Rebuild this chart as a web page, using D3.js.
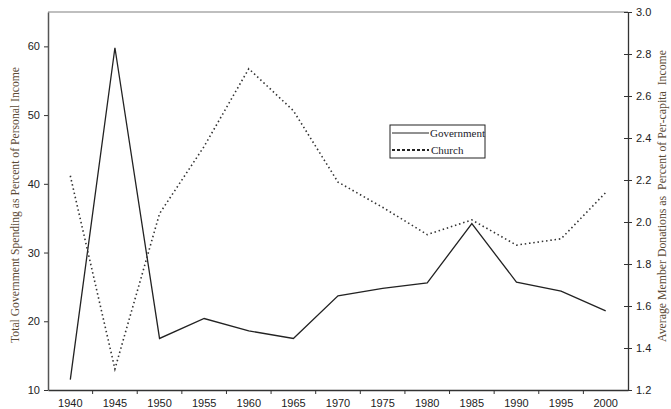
<!DOCTYPE html>
<html>
<head>
<meta charset="utf-8">
<script src="https://cdn.jsdelivr.net/npm/d3@7"></script>
<style>
  body { margin: 0; background: #fff; }
  svg { display: block; }
</style>
</head>
<body>
<svg id="chart"></svg>
<script>
const years = [1940, 1945, 1950, 1955, 1960, 1965, 1970, 1975, 1980, 1985, 1990, 1995, 2000];
const government = [11.5, 59.8, 17.5, 20.4, 18.6, 17.5, 23.7, 24.8, 25.6, 34.2, 25.7, 24.4, 21.5];
const church = [2.22, 1.30, 2.04, 2.36, 2.73, 2.53, 2.19, 2.07, 1.94, 2.01, 1.89, 1.92, 2.14];
const leftTicks = [10, 20, 30, 40, 50, 60];
const rightTicks = [1.2, 1.4, 1.6, 1.8, 2.0, 2.2, 2.4, 2.6, 2.8, 3.0];

const width = 671;
const height = 409;
const plot = { left: 48, right: 628, top: 12, bottom: 390 };

const labelFont = "'Liberation Sans', Arial, sans-serif";
const titleFont = "'Liberation Serif', 'Times New Roman', serif";
const titleColor = "#5c4a36";

const svg = d3.select("#chart").attr("width", width).attr("height", height);

const x = d3.scaleBand().domain(years).range([plot.left, plot.right]);
const yLeft = d3.scaleLinear().domain([10, 65]).range([plot.bottom, plot.top]);
const yRight = d3.scaleLinear().domain([1.2, 3.0]).range([plot.bottom, plot.top]);

// top border
svg.append("line")
    .attr("x1", plot.left).attr("x2", plot.right)
    .attr("y1", plot.top).attr("y2", plot.top)
    .attr("stroke", "#aaa").attr("stroke-width", 1.5);

// x axis: labels centred in bands, ticks on band edges
const xAxis = svg.append("g")
    .attr("transform", `translate(0,${plot.bottom})`)
    .call(d3.axisBottom(x).tickSize(0).tickPadding(9));
xAxis.select(".domain").attr("stroke", "#333").attr("stroke-width", 1.3);
xAxis.selectAll("text").attr("font-family", labelFont).attr("font-size", 11).attr("fill", "#222");
xAxis.selectAll("line.edge")
    .data(years.slice(1))
    .join("line")
    .attr("class", "edge")
    .attr("x1", (d) => x(d)).attr("x2", (d) => x(d))
    .attr("y1", 0).attr("y2", 4)
    .attr("stroke", "#333");

// left axis
const leftAxis = svg.append("g")
    .attr("transform", `translate(${plot.left},0)`)
    .call(d3.axisLeft(yLeft).tickValues(leftTicks).tickSizeInner(4).tickSizeOuter(0).tickPadding(4));
leftAxis.select(".domain").attr("stroke", "#555").attr("stroke-width", 1.5);
leftAxis.selectAll("line").attr("stroke", "#333");
leftAxis.selectAll("text").attr("font-family", labelFont).attr("font-size", 11).attr("fill", "#222");

// right axis, ticks cross the line
const rightAxis = svg.append("g")
    .attr("transform", `translate(${plot.right},0)`)
    .call(d3.axisRight(yRight).tickValues(rightTicks).tickFormat(d3.format(".1f"))
        .tickSizeInner(4).tickSizeOuter(0).tickPadding(4));
rightAxis.select(".domain").attr("stroke", "#333").attr("stroke-width", 1.3);
rightAxis.selectAll(".tick line").attr("x1", -4).attr("stroke", "#333");
rightAxis.selectAll("text").attr("font-family", labelFont).attr("font-size", 11).attr("fill", "#222");

// axis titles
svg.append("text")
    .attr("transform", "translate(19,205) rotate(-90)")
    .attr("text-anchor", "middle")
    .attr("font-family", titleFont).attr("font-size", 11.5).attr("fill", titleColor)
    .attr("textLength", 276).attr("lengthAdjust", "spacingAndGlyphs")
    .text("Total Government Spending as Percent of Personal Income");

svg.append("text")
    .attr("transform", "translate(666,196) rotate(-90)")
    .attr("text-anchor", "middle")
    .attr("font-family", titleFont).attr("font-size", 11.5).attr("fill", titleColor)
    .attr("xml:space", "preserve")
    .attr("textLength", 292).attr("lengthAdjust", "spacingAndGlyphs")
    .text("Average Member Donations as  Percent of Per-capita  Income");

// series
const cx = (i) => x(years[i]) + x.bandwidth() / 2;

const govLine = d3.line().x((d, i) => cx(i)).y((d) => yLeft(d));
svg.append("path")
    .datum(government)
    .attr("fill", "none")
    .attr("stroke", "#222")
    .attr("stroke-width", 1.3)
    .attr("d", govLine);

const churchLine = d3.line().x((d, i) => cx(i)).y((d) => yRight(d));
svg.append("path")
    .datum(church)
    .attr("fill", "none")
    .attr("stroke", "#333")
    .attr("stroke-width", 1.6)
    .attr("stroke-dasharray", "1.5,2.8")
    .attr("d", churchLine);

// legend
const legend = svg.append("g").attr("transform", "translate(390,125)");
legend.append("rect")
    .attr("width", 95).attr("height", 33)
    .attr("fill", "#fff").attr("stroke", "#222").attr("stroke-width", 1);
const legendItems = [
    { name: "Government", dash: null, width: 1, textX: 40 },
    { name: "Church", dash: "3,2", width: 2, textX: 41 }
];
legendItems.forEach((item, i) => {
    const y = 8 + i * 17;
    legend.append("line")
        .attr("x1", 2).attr("x2", 39).attr("y1", y).attr("y2", y)
        .attr("stroke", "#222").attr("stroke-width", item.width)
        .attr("stroke-dasharray", item.dash);
    legend.append("text")
        .attr("x", item.textX).attr("y", y + 4)
        .attr("font-family", titleFont).attr("font-size", 11).attr("fill", "#1a1a2a")
        .text(item.name);
});
</script>
</body>
</html>
